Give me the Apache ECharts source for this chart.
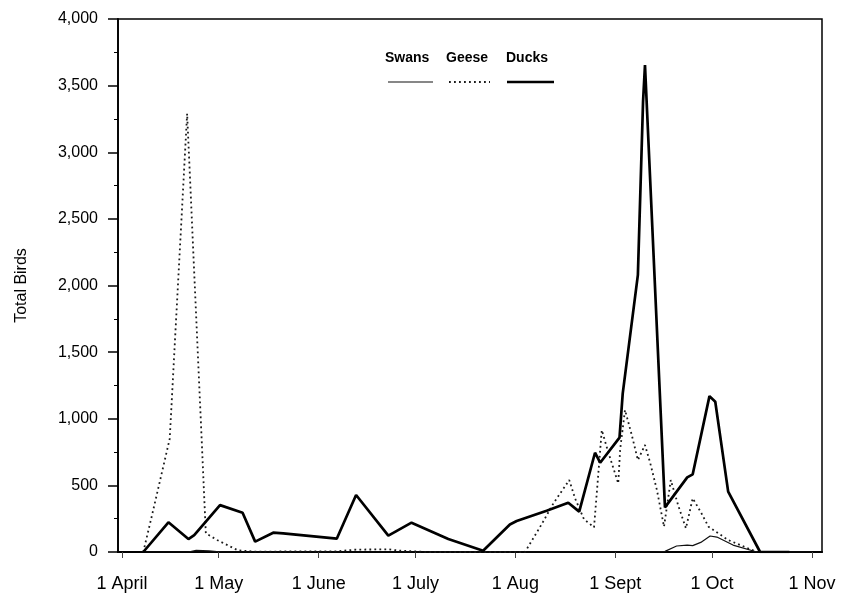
<!DOCTYPE html>
<html>
<head>
<meta charset="utf-8">
<script src="https://cdn.jsdelivr.net/npm/echarts@6/dist/echarts.min.js"></script>
<style>
  html, body { margin: 0; padding: 0; background: #fff; }
  #chart { width: 844px; height: 603px; }
</style>
</head>
<body>
<div id="chart"></div>
<script>
// Days are counted from 1 April.
const monthStarts = [0, 30, 61, 91, 122, 153, 183, 214];
const monthLabels = ['1 April', '1 May', '1 June', '1 July', '1 Aug', '1 Sept', '1 Oct', '1 Nov'];

const duckDays   = [6.6, 14.4, 20.6, 22.4, 30.4, 37.4, 41.3, 46.9, 50, 66.6, 72.6, 82.6, 89.8, 101.2, 112, 120.3, 122.4, 131.7, 138.4, 141.8, 146.7, 148.3, 154.3, 155.3, 160, 161.6, 162.2, 168.4, 175.3, 177, 182.2, 184, 188, 197.9, 207];
const duckCounts = [0, 223, 97, 127, 352, 295, 78, 145, 140, 100, 428, 123, 220, 98, 10, 207, 232, 310, 370, 303, 745, 670, 858, 1190, 2080, 3380, 3655, 335, 560, 583, 1170, 1128, 453, 0, 0];

const gooseDays   = [6.6, 9.2, 14.8, 20.2, 26, 29.5, 36, 41, 66.6, 72.6, 82.6, 86.2, 95, 125, 130.2, 133.8, 138.7, 140.5, 143.3, 146.4, 148.8, 150.8, 153.9, 154.5, 156, 158.1, 160, 162.2, 163.8, 165.9, 168.1, 170.2, 172.5, 174.9, 177, 179.5, 181.9, 188, 196.9];
const gooseCounts = [0, 265, 850, 3290, 140, 90, 12, 3, 5, 18, 20, 10, 0, 0, 210, 365, 540, 403, 245, 185, 915, 750, 515, 770, 1066, 878, 690, 803, 670, 465, 190, 540, 350, 178, 403, 300, 190, 90, 0];

const swanDays   = [6.6, 20.6, 23, 27, 31, 60, 100, 150, 165, 168.4, 172, 175.3, 177, 179.5, 182.4, 184.5, 189.5, 196.9, 214];
const swanCounts = [0, 0, 12, 8, 0, 0, 0, 0, 0, 5, 45, 52, 48, 72, 120, 112, 52, 0, 0];

const yTicks = { min: 0, max: 4000, step: 500 };

function pairs(xs, ys) {
  return xs.map((x, i) => [x, ys[i]]);
}

const chart = echarts.init(document.getElementById('chart'), null, { renderer: 'canvas' });

const fontFamily = '"Liberation Sans", Arial, Helvetica, sans-serif';

chart.setOption({
  animation: false,
  backgroundColor: '#ffffff',
  grid: {
    left: 118, right: 22, top: 19, bottom: 51,
    show: true, borderColor: '#000', borderWidth: 1.5, backgroundColor: 'transparent'
  },
  xAxis: {
    type: 'value',
    min: -1.24,
    max: 217.1,
    splitLine: { show: false },
    axisLine: { show: true, onZero: false, lineStyle: { color: '#000', width: 2.2 } },
    axisTick: {
      show: true, customValues: monthStarts, length: 6, inside: false,
      lineStyle: { color: '#444', width: 1 }
    },
    axisLabel: {
      customValues: monthStarts,
      formatter: v => monthLabels[monthStarts.indexOf(Math.round(v))] || '',
      color: '#000', fontSize: 18, fontFamily, margin: 23
    }
  },
  yAxis: [{
    type: 'value',
    min: yTicks.min, max: yTicks.max, interval: yTicks.step,
    name: 'Total Birds',
    nameLocation: 'middle',
    nameGap: 88,
    nameRotate: 90,
    nameTextStyle: { color: '#000', fontSize: 16, fontFamily },
    splitLine: { show: false },
    axisLine: { show: true, onZero: false, lineStyle: { color: '#000', width: 1.8 } },
    axisTick: { show: true, length: 10, lineStyle: { color: '#000', width: 1.5 } },
    minorTick: { show: true, splitNumber: 2, length: 4, lineStyle: { color: '#000', width: 1 } },
    axisLabel: {
      formatter: v => v.toLocaleString('en-US'),
      color: '#000', fontSize: 16, fontFamily, margin: 20
    }
  }],
  series: [
    {
      name: 'Swans', type: 'line', symbol: 'none', smooth: false,
      data: pairs(swanDays, swanCounts),
      lineStyle: { color: '#111', width: 1.2 }, z: 3
    },
    {
      name: 'Geese', type: 'line', symbol: 'none', smooth: false,
      data: pairs(gooseDays, gooseCounts),
      lineStyle: { color: '#1a1a1a', width: 1.8, type: [1.8, 3.2] }, z: 2
    },
    {
      name: 'Ducks', type: 'line', symbol: 'none', smooth: false,
      data: pairs(duckDays, duckCounts),
      lineStyle: { color: '#000', width: 2.7 }, z: 4
    }
  ],
  graphic: [
    { type: 'text', left: 385, top: 51, style: { text: 'Swans', font: 'bold 14px ' + fontFamily, fill: '#000' } },
    { type: 'text', left: 446, top: 51, style: { text: 'Geese', font: 'bold 14px ' + fontFamily, fill: '#000' } },
    { type: 'text', left: 506, top: 51, style: { text: 'Ducks', font: 'bold 14px ' + fontFamily, fill: '#000' } },
    { type: 'line', shape: { x1: 388, y1: 82, x2: 433, y2: 82 }, style: { stroke: '#111', lineWidth: 1.2 } },
    { type: 'line', shape: { x1: 449, y1: 82, x2: 490, y2: 82 }, style: { stroke: '#1a1a1a', lineWidth: 1.8, lineDash: [1.8, 3.2] } },
    { type: 'line', shape: { x1: 507, y1: 82, x2: 554, y2: 82 }, style: { stroke: '#000', lineWidth: 2.7 } }
  ]
});
</script>
</body>
</html>
